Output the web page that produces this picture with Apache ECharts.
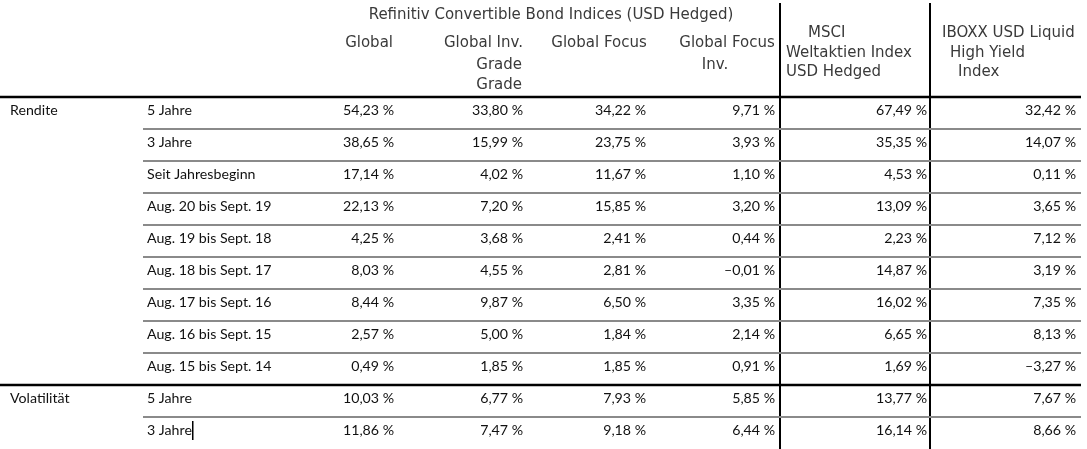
<!DOCTYPE html>
<html>
<head>
<meta charset="utf-8">
<script src="https://cdn.jsdelivr.net/npm/echarts@6/dist/echarts.min.js"></script>
<style>
  html, body { margin: 0; padding: 0; background: #fff; }
  #main { width: 1087px; height: 449px; }
</style>
</head>
<body>
<div id="main"></div>
<script>
// row labels
const groups = ['Rendite', 'Volatilität'];
const groupOfRow = [0, 0, 0, 0, 0, 0, 0, 0, 0, 1, 1];
const periods = [
  '5 Jahre', '3 Jahre', 'Seit Jahresbeginn',
  'Aug. 20 bis Sept. 19', 'Aug. 19 bis Sept. 18', 'Aug. 18 bis Sept. 17',
  'Aug. 17 bis Sept. 16', 'Aug. 16 bis Sept. 15', 'Aug. 15 bis Sept. 14',
  '5 Jahre', '3 Jahre'
];

// values in percent, one array per index
const globalCB = [54.23, 38.65, 17.14, 22.13, 4.25, 8.03, 8.44, 2.57, 0.49, 10.03, 11.86];
const globalInvGrade = [33.80, 15.99, 4.02, 7.20, 3.68, 4.55, 9.87, 5.00, 1.85, 6.77, 7.47];
const globalFocus = [34.22, 23.75, 11.67, 15.85, 2.41, 2.81, 6.50, 1.84, 1.85, 7.93, 9.18];
const globalFocusInv = [9.71, 3.93, 1.10, 3.20, 0.44, -0.01, 3.35, 2.14, 0.91, 5.85, 6.44];
const msciWorld = [67.49, 35.35, 4.53, 13.09, 2.23, 14.87, 16.02, 6.65, 1.69, 13.77, 16.14];
const iboxxHY = [32.42, 14.07, 0.11, 3.65, 7.12, 3.19, 7.35, 8.13, -3.27, 7.67, 8.66];

const columns = [globalCB, globalInvGrade, globalFocus, globalFocusInv, msciWorld, iboxxHY];

// header texts
const superTitle = 'Refinitiv Convertible Bond Indices (USD Hedged)';
const colHeaders = [
  ['Global'],
  ['Global Inv.', 'Grade', 'Grade'],
  ['Global Focus'],
  ['Global Focus', 'Inv.'],
  ['MSCI', 'Weltaktien Index', 'USD Hedged'],
  ['IBOXX USD Liquid', 'High Yield', 'Index']
];

// layout (pixels)
const colRight = [394, 523, 646, 775, 927, 1076];
const bodyFont = '14.2px Lato, "Open Sans", sans-serif';
const headFont = '15px "DejaVu Sans", Verdana, sans-serif';

function fmt(v) {
  const s = Math.abs(v).toFixed(2).replace('.', ',') + '\u202f%';
  return v < 0 ? '\u2013' + s : s;
}

const cellData = [];
columns.forEach((col, c) => col.forEach((v, r) => cellData.push([c, r, v])));

const labelData = periods.map((p, r) => [r, p]);
const ruleData = periods.slice(0, -1).map((p, r) => [r, groupOfRow[r] !== groupOfRow[r + 1] ? 1 : 0]);

const chart = echarts.init(document.getElementById('main'));

const txt = (text, x, y, align) => ({
  type: 'text',
  style: { text: text, x: x, y: y, font: headFont, fill: '#3a3a3a', textAlign: align || 'left', textVerticalAlign: 'middle' }
});

chart.setOption({
  animation: false,
  grid: { left: 0, right: 0, top: 97, bottom: 0 },
  xAxis: { type: 'value', min: 0, max: 1087, show: false },
  yAxis: { type: 'category', data: periods, inverse: true, show: false },
  series: [
    {
      type: 'custom',
      name: 'rules',
      data: ruleData,
      encode: { y: 0 },
      renderItem: function (params, api) {
        const r = api.value(0);
        const p = api.coord([0, r]);
        const h = api.size([0, 1])[1];
        const y = p[1] + h / 2;
        const strong = api.value(1) === 1;
        return {
          type: 'line',
          shape: { x1: strong ? 0 : 143, y1: y, x2: 1081, y2: y },
          style: { stroke: strong ? '#000' : '#8a8a8a', lineWidth: strong ? 2.5 : 2 }
        };
      }
    },
    {
      type: 'custom',
      name: 'periods',
      data: labelData,
      encode: { y: 0 },
      renderItem: function (params, api) {
        const r = api.value(0);
        const p = api.coord([147, r]);
        const out = [{
          type: 'text',
          style: { text: periods[r], x: p[0], y: p[1] - 3, font: bodyFont, fill: '#111', textAlign: 'left', textVerticalAlign: 'middle' }
        }];
        if (r === 0 || groupOfRow[r] !== groupOfRow[r - 1]) {
          out.push({
            type: 'text',
            style: { text: groups[groupOfRow[r]], x: 10, y: p[1] - 3, font: bodyFont, fill: '#111', textAlign: 'left', textVerticalAlign: 'middle' }
          });
        }
        return { type: 'group', children: out };
      }
    },
    {
      type: 'custom',
      name: 'cells',
      data: cellData,
      encode: { y: 1 },
      renderItem: function (params, api) {
        const c = api.value(0);
        const r = api.value(1);
        const p = api.coord([colRight[c], r]);
        return {
          type: 'text',
          style: { text: fmt(api.value(2)), x: p[0], y: p[1] - 3, font: bodyFont, fill: '#111', textAlign: 'right', textVerticalAlign: 'middle' }
        };
      }
    }
  ],
  graphic: [
    { type: 'line', shape: { x1: 0, y1: 97, x2: 1081, y2: 97 }, style: { stroke: '#000', lineWidth: 2.5 } },
    { type: 'line', shape: { x1: 780, y1: 3, x2: 780, y2: 449 }, style: { stroke: '#000', lineWidth: 2 } },
    { type: 'line', shape: { x1: 930, y1: 3, x2: 930, y2: 449 }, style: { stroke: '#000', lineWidth: 2 } },
    { type: 'rect', shape: { x: 192, y: 421, width: 1.5, height: 19 }, style: { fill: '#000' } },
    txt(superTitle, 551, 15, 'center'),
    txt(colHeaders[0][0], 393, 43, 'right'),
    txt(colHeaders[1][0], 523, 43, 'right'),
    txt(colHeaders[1][1], 522, 65, 'right'),
    txt(colHeaders[1][2], 522, 85, 'right'),
    txt(colHeaders[2][0], 599, 43, 'center'),
    txt(colHeaders[3][0], 727, 43, 'center'),
    txt(colHeaders[3][1], 715, 65, 'center'),
    txt(colHeaders[4][0], 808, 33, 'left'),
    txt(colHeaders[4][1], 786, 53, 'left'),
    txt(colHeaders[4][2], 786, 72, 'left'),
    txt(colHeaders[5][0], 942, 33, 'left'),
    txt(colHeaders[5][1], 950, 53, 'left'),
    txt(colHeaders[5][2], 958, 72, 'left')
  ]
});
</script>
</body>
</html>
